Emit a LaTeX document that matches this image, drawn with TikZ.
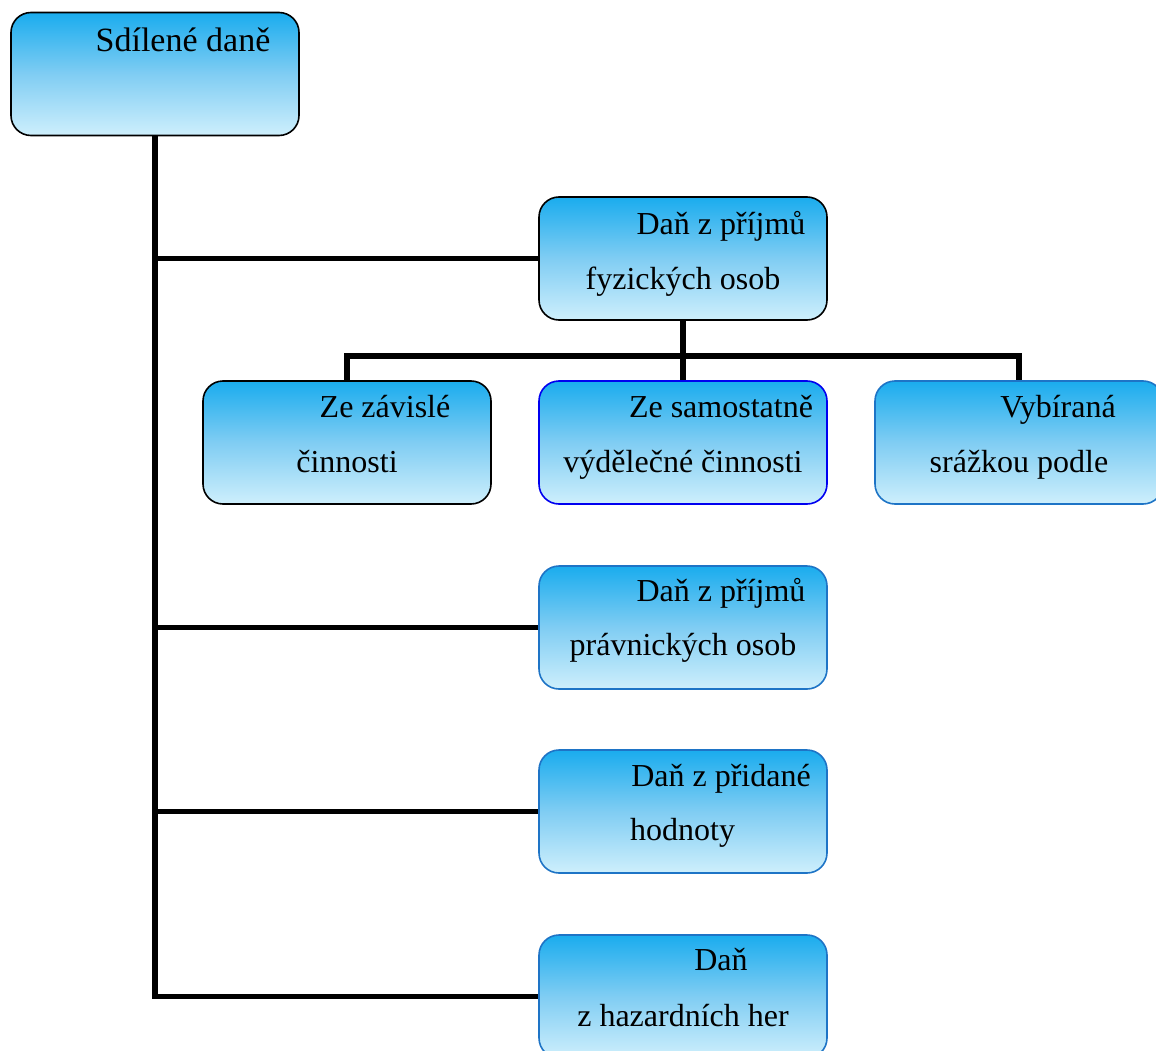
\documentclass[tikz,border=0pt]{standalone}
\usepackage{fontspec}
\setmainfont{Liberation Serif}
\definecolor{gtop}{RGB}{26,172,238}
\definecolor{gmid}{RGB}{128,205,243}
\definecolor{gbot}{RGB}{206,239,252}
\definecolor{bblue}{RGB}{0,0,240}
\definecolor{sblue}{RGB}{30,116,198}
\tikzset{
  box/.style={rectangle, rounded corners=20pt, minimum width=288pt, minimum height=123pt,
    top color=gtop, bottom color=gbot, middle color=gmid, line width=1.6pt, inner sep=0pt},
  txt/.style={anchor=base, inner sep=0pt, font=\fontsize{32}{38}\selectfont},
  conn/.style={line width=5.5pt, black}
}
\begin{document}
\begin{tikzpicture}[x=1pt,y=-1pt]
\clip (0,0) rectangle (1156,1051);
\fill[white] (0,0) rectangle (1156,1051);
\node[box, draw=black] (b1) at (155,74) {};
\node[box, draw=black] (b2) at (683,258.5) {};
\node[box, draw=black] (b3) at (347,442.5) {};
\node[box, draw=bblue] (b4) at (683,442.5) {};
\node[box, draw=sblue] (b5) at (1019,442.5) {};
\node[box, draw=sblue] (b6) at (683,627.5) {};
\node[box, draw=sblue] (b7) at (683,811.5) {};
\node[box, draw=sblue] (b8) at (683,996.5) {};
\coordinate (j) at (683,356);
\draw[conn] (b1.south) -- (b1.south |- b8.west) -- (b8.west);
\draw[conn] (b1.south |- b2.west) -- (b2.west);
\draw[conn] (b1.south |- b6.west) -- (b6.west);
\draw[conn] (b1.south |- b7.west) -- (b7.west);
\draw[conn] (b2.south) -- (b4.north);
\draw[conn] (b3.north) -- (b3.north |- j) -- (b5.north |- j) -- (b5.north);
\node[txt, font=\fontsize{34}{40}\selectfont] (t1) at (183,52) {Sdílené daně};
\node[txt] (t2a) at (721,234) {Daň z příjmů};
\node[txt] (t2b) at (683,289) {fyzických osob};
\node[txt] (t3a) at (385,417) {Ze závislé};
\node[txt] (t3b) at (347,472) {činnosti};
\node[txt] (t4a) at (721,417) {Ze samostatně};
\node[txt] (t4b) at (683,472) {výdělečné činnosti};
\node[txt] (t5a) at (1058,417) {Vybíraná};
\node[txt] (t5b) at (1019,472) {srážkou podle};
\node[txt] (t6a) at (721,601) {Daň z příjmů};
\node[txt] (t6b) at (683,655) {právnických osob};
\node[txt] (t7a) at (721,786) {Daň z přidané};
\node[txt, anchor=base west] (t7b) at (630,840) {hodnoty};
\node[txt] (t8a) at (721,970) {Daň};
\node[txt] (t8b) at (683,1026) {z hazardních her};
\end{tikzpicture}
\end{document}
